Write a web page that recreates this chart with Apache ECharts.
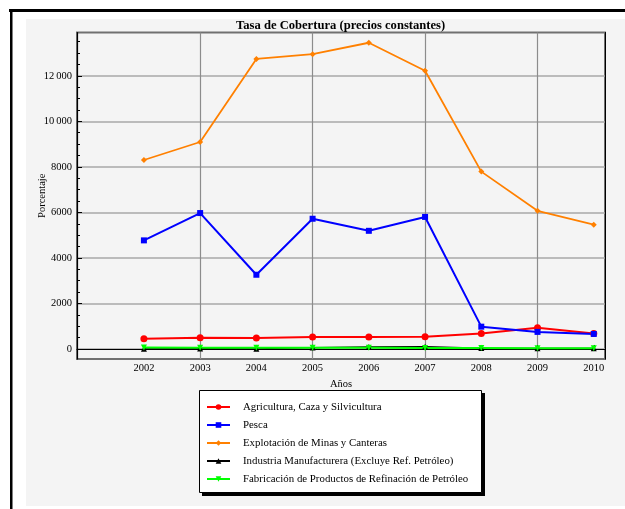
<!DOCTYPE html>
<html>
<head>
<meta charset="utf-8">
<script src="https://cdn.jsdelivr.net/npm/echarts@6/dist/echarts.min.js"></script>
<style>
html,body{margin:0;padding:0;background:#fff;}
#chart{width:625px;height:509px;}
</style>
</head>
<body>
<div id="chart"></div>
<script>
const years = [2002, 2003, 2004, 2005, 2006, 2007, 2008, 2009, 2010];
const agricultura = [450, 495, 480, 525, 525, 540, 685, 935, 680];
const pesca = [4770, 5970, 3260, 5720, 5190, 5800, 980, 750, 660];
const minas = [8300, 9090, 12740, 12950, 13450, 12220, 7790, 6070, 5460];
const industria = [10, 20, 10, 60, 90, 100, 40, 30, 30];
const refinacion = [60, 50, 50, 50, 50, 40, 40, 30, 30];
const seriesNames = [
  'Agricultura, Caza y Silvicultura',
  'Pesca',
  'Explotación de Minas y Canteras',
  'Industria Manufacturera (Excluye Ref. Petróleo)',
  'Fabricación de Productos de Refinación de Petróleo'
];
const yMajorTicks = [0, 2000, 4000, 6000, 8000, 10000, 12000];
const yMinorTicks = [500,1000,1500,2500,3000,3500,4500,5000,5500,6500,7000,7500,8500,9000,9500,10500,11000,11500,12500,13000,13500];
const xGridYears = [2003, 2005, 2007, 2009];

const FONT = 'Liberation Serif';
const pairs = arr => years.map((y, i) => [y, arr[i]]);
const fmtY = v => v >= 10000 ? String(v).replace(/(\d)(?=(\d{3})$)/, '$1\u2009') : String(v);

const chart = echarts.init(document.getElementById('chart'), null, {renderer: 'canvas'});
const baseLine = (name, data, color, symbol, size, extra) => Object.assign({
  name, type: 'line', data: pairs(data), xAxisIndex: 0, yAxisIndex: 0,
  symbol, symbolSize: size, showSymbol: true,
  lineStyle: {color, width: 2}, itemStyle: {color, borderWidth: 0},
  emphasis: {disabled: true}, animation: false
}, extra || {});

chart.setOption({
  animation: false,
  textStyle: {fontFamily: FONT},
  graphic: [
    {type: 'rect', z: -100, silent: true, shape: {x: 26, y: 19, width: 600, height: 487}, style: {fill: '#f4f4f4'}},
    {type: 'rect', z: -100, silent: true, shape: {x: 9, y: 9, width: 616, height: 3}, style: {fill: '#000'}},
    {type: 'rect', z: -100, silent: true, shape: {x: 10, y: 9, width: 2.5, height: 500}, style: {fill: '#000'}},
    {type: 'rect', z: -99, silent: true, shape: {x: 202, y: 393, width: 283, height: 103}, style: {fill: '#000'}},
    {type: 'rect', z: -98, silent: true, shape: {x: 199.5, y: 390.5, width: 282, height: 102}, style: {fill: '#fff', stroke: '#000', lineWidth: 1}}
  ],
  title: {
    text: 'Tasa de Cobertura (precios constantes)',
    left: 236, top: 19, padding: 0,
    textStyle: {fontFamily: FONT, fontSize: 12.6, fontWeight: 'bold', color: '#000'}
  },
  grid: {
    left: 77, top: 32.5, right: 20, bottom: 150, show: true,
    backgroundColor: 'transparent', borderColor: '#707070', borderWidth: 2
  },
  legend: {
    orient: 'vertical', left: 199, top: 391,
    padding: [10, 10, 9, 7],
    itemWidth: 23, itemHeight: 7, itemGap: 6,
    backgroundColor: 'transparent', borderWidth: 0,
    textStyle: {fontFamily: FONT, fontSize: 10.85, color: '#000', lineHeight: 12, padding: [0, 0, 0, 8]},
    data: seriesNames
  },
  xAxis: [
    {
      type: 'value', min: 2000.81, max: 2010.2, position: 'bottom',
      name: 'Años', nameLocation: 'middle', nameGap: 17,
      nameTextStyle: {fontFamily: FONT, fontSize: 10.5, color: '#000'},
      axisLine: {show: true, lineStyle: {color: '#000', width: 1.2}},
      axisTick: {show: true, inside: true, length: 4, customValues: years, lineStyle: {color: '#000'}},
      axisLabel: {show: true, customValues: years, margin: 4, fontFamily: FONT, fontSize: 10.5, color: '#000', formatter: v => String(v)},
      splitLine: {show: false}
    },
    {
      type: 'value', min: 2000.81, max: 2010.2, position: 'bottom',
      axisLine: {show: false},
      axisTick: {show: false, customValues: xGridYears},
      axisLabel: {show: false, customValues: xGridYears},
      splitLine: {show: true, lineStyle: {color: '#8c8c8c', width: 1.2}}
    }
  ],
  yAxis: [
    {
      type: 'value', min: -440, max: 13900, position: 'left',
      name: 'Porcentaje', nameLocation: 'middle', nameGap: 29, nameRotate: 90,
      nameMoveOverlap: false,
      nameTextStyle: {fontFamily: FONT, fontSize: 10.5, color: '#000'},
      axisLine: {show: true, lineStyle: {color: '#000', width: 1.2}},
      axisTick: {show: true, inside: true, length: 5, customValues: yMajorTicks, lineStyle: {color: '#000'}},
      axisLabel: {show: true, customValues: yMajorTicks, margin: 5, fontFamily: FONT, fontSize: 10.5, color: '#000', formatter: fmtY},
      splitLine: {show: true, lineStyle: {color: '#a8a8a8', width: 1.6}}
    },
    {
      type: 'value', min: -440, max: 13900, position: 'left',
      axisLine: {show: false},
      axisTick: {show: true, inside: true, length: 3, customValues: yMinorTicks, lineStyle: {color: '#000'}},
      axisLabel: {show: false},
      splitLine: {show: false}
    },
    {
      type: 'value', min: -440, max: 13900, position: 'right',
      axisLine: {show: true, lineStyle: {color: '#000', width: 1}},
      axisTick: {show: false}, axisLabel: {show: false}, splitLine: {show: false}
    }
  ],
  series: [
    baseLine(seriesNames[0], agricultura, '#ff0000', 'circle', 7),
    baseLine(seriesNames[1], pesca, '#0000ff', 'rect', 6),
    baseLine(seriesNames[2], minas, '#ff8000', 'diamond', 6, {lineStyle: {color: '#ff8000', width: 1.8}}),
    baseLine(seriesNames[3], industria, '#000000', 'triangle', 6, {lineStyle: {color: '#000', width: 1.2}}),
    baseLine(seriesNames[4], refinacion, '#00ff00', 'triangle', 6, {symbolRotate: 180, lineStyle: {color: '#00ff00', width: 2}})
  ]
});
</script>
</body>
</html>
